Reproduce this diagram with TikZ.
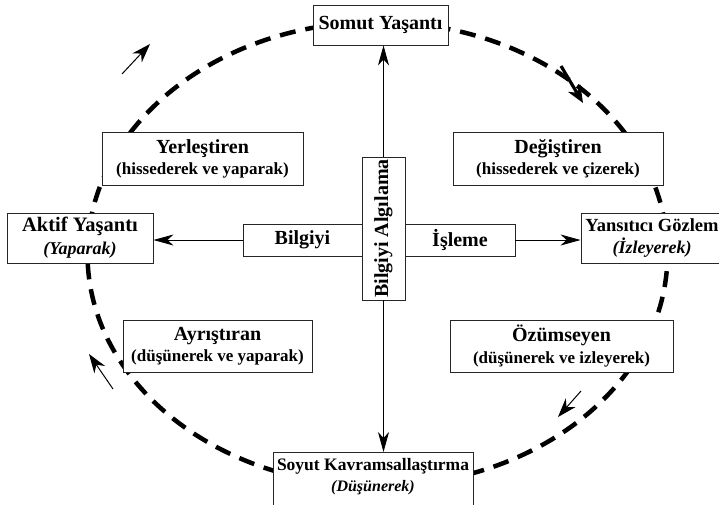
\documentclass[tikz,border=0pt]{standalone}
\usepackage{fontspec}
\setmainfont{Liberation Serif}
\usetikzlibrary{arrows.meta}
\begin{document}
\begin{tikzpicture}[x=1pt,y=-1pt,
  box/.style={draw=black!85, line width=0.9pt, fill=white, inner sep=0pt, align=center, font=\bfseries},
  lbl/.style={inner sep=0pt, align=center, font=\bfseries},
  conn/.style={line width=0.8pt, -{Stealth[length=20pt,width=11pt,inset=6pt]}},
  cyc/.style={line width=4.5pt, dash pattern=on 16pt off 10pt},
  cycarrow/.style={line width=1pt, -{Stealth[length=19pt,width=13pt,inset=6pt]}},
  cycarrowthick/.style={line width=3.2pt, -{Stealth[length=17pt,width=14pt,inset=5pt]}}
]
\useasboundingbox (0,0) rectangle (719,504);
% cycle
\draw[cyc] (377.5,254) ellipse [x radius=290pt, y radius=232pt];
% cycle arrows
\coordinate (tlA) at (122,74);  \coordinate (tlB) at (150,44);
\coordinate (trA) at (561,66);  \coordinate (trB) at (583,103);
\coordinate (brA) at (581,391); \coordinate (brB) at (558,417);
\coordinate (blA) at (113,389); \coordinate (blB) at (89,354);
\draw[cycarrow] (tlA) -- (tlB);
\draw[cycarrowthick] (trA) -- (trB);
\draw[cycarrow] (brA) -- (brB);
\draw[cycarrow] (blA) -- (blB);

% outer boxes
\node[box, minimum width=135pt, minimum height=40pt] (somut) at (380.5,25)
  {\fontsize{20}{22}\selectfont Somut Yaşantı};
\node[box, minimum width=146pt, minimum height=50pt] (aktif) at (80,238)
  {\fontsize{20.5}{20}\selectfont Aktif Yaşantı\\[5pt] \fontsize{18}{20}\selectfont\itshape (Yaparak)};
\node[box, minimum width=142pt, minimum height=50pt] (yans) at (652,238)
  {\fontsize{18.5}{20}\selectfont Yansıtıcı Gözlem\\[5pt] \fontsize{18}{20}\selectfont\itshape (İzleyerek)};
\node[box, minimum width=200pt, minimum height=64pt, anchor=north] (soyut) at (373,452) {};
\node[lbl] (soyuttext) at (373,476.5)
  {\fontsize{17.5}{22}\selectfont Soyut Kavramsallaştırma\\[5pt] \fontsize{16}{22}\selectfont\itshape (Düşünerek)};

% inner boxes
\node[box, minimum width=201pt, minimum height=53pt] (yerl) at (202.5,158.5)
  {\fontsize{20}{22}\selectfont Yerleştiren\\[4pt] \fontsize{17}{22}\selectfont (hissederek ve yaparak)};
\node[box, minimum width=210pt, minimum height=53pt] (degi) at (558,158.5)
  {\fontsize{20}{22}\selectfont Değiştiren\\[4pt] \fontsize{17}{22}\selectfont (hissederek ve çizerek)};
\node[box, minimum width=189pt, minimum height=52pt] (ayri) at (217.5,346)
  {\fontsize{20}{22}\selectfont Ayrıştıran\\[4pt] \fontsize{17}{22}\selectfont (düşünerek ve yaparak)};
\node[box, minimum width=223pt, minimum height=52pt] (ozum) at (561.5,346)
  {\fontsize{20}{22}\selectfont Özümseyen\\[4pt] \fontsize{17}{22}\selectfont (düşünerek ve izleyerek)};

% centre
\node[box, minimum width=119pt, minimum height=32pt] (bilgiyi) at (302.5,240)
  {\fontsize{20}{22}\selectfont Bilgiyi};
\node[box, minimum width=110pt, minimum height=32pt] (isleme) at (460,240)
  {\fontsize{20}{22}\selectfont İşleme};
\node[box, minimum width=143pt, minimum height=43pt, rotate=90] (vert) at (383.5,228.5)
  {\fontsize{20}{22}\selectfont Bilgiyi Algılama};

% connectors
\draw[conn] (vert.east) -- (vert.east |- somut.south);
\draw[conn] (vert.west) -- (vert.west |- soyut.north);
\draw[conn] (bilgiyi.west) -- (bilgiyi.west -| aktif.east);
\draw[conn] (isleme.east) -- (isleme.east -| yans.west);
\end{tikzpicture}
\end{document}
